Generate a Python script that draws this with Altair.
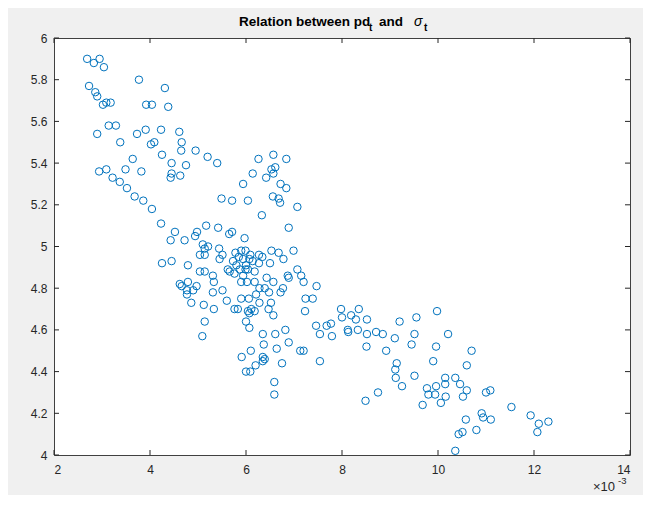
import altair as alt
import pandas as pd

# pd_t values in units of 1e-3 (axis shows x10^-3), and sigma_t values
PD_T = [
    2.69, 2.83, 2.95, 3.04, 2.73, 2.86, 2.90, 3.02, 3.09, 3.18,
    3.77, 4.31, 3.92, 4.04, 4.38, 3.14, 3.29, 2.90, 3.38, 3.73,
    3.91, 4.23, 4.61, 4.66, 4.02, 4.09, 4.65, 4.25, 4.95, 5.20,
    5.40, 3.64, 3.49, 3.82, 2.94, 3.09, 3.22, 3.37, 3.52, 3.68,
    3.86, 4.04, 4.45, 4.75, 4.43, 4.45, 4.63, 4.23, 4.52, 4.43,
    4.72, 4.94, 4.98, 5.17, 5.42, 5.65, 5.71, 5.97, 5.49, 5.71,
    6.04, 5.94, 6.14, 6.26, 6.57, 6.84, 6.53, 6.61, 6.57, 6.42,
    6.72, 6.84, 6.56, 6.68, 6.71, 7.07, 6.33, 6.89, 6.99, 6.53,
    6.68, 6.78, 6.50, 5.90, 5.99, 5.78, 6.09, 6.27, 6.34, 5.85,
    5.94, 6.07, 6.14, 6.27, 5.73, 5.80, 6.00, 5.62, 5.87, 5.99,
    6.04, 5.76, 5.94, 6.18, 6.43, 6.57, 6.28, 6.39, 5.90, 6.02,
    6.18, 6.48, 6.72, 6.77, 6.87, 6.89, 7.07, 7.15, 7.20, 7.47,
    5.90, 6.06, 6.21, 6.28, 6.52, 6.47, 6.57, 7.24, 7.39, 7.23,
    5.76, 5.83, 6.04, 6.11, 6.18, 6.07, 6.00, 6.07, 6.35, 6.61,
    6.82, 7.46, 7.68, 7.77, 7.98, 8.00, 8.19, 8.35, 8.29, 8.52,
    8.12, 8.33, 8.71, 5.10, 5.21, 5.14, 5.44, 5.51, 5.04, 5.14,
    5.45, 5.04, 5.14, 5.31, 5.33, 5.66, 5.31, 5.51, 5.60, 5.12,
    5.33, 5.14, 5.09, 6.37, 6.64, 6.89, 6.10, 5.91, 6.35, 6.35,
    6.39, 6.20, 6.75, 6.00, 6.09, 6.59, 6.59, 7.13, 7.20, 7.54,
    7.54, 7.79, 8.13, 8.52, 8.85, 8.51, 9.10, 9.20, 8.92, 9.14,
    9.11, 9.12, 8.75, 8.49, 9.55, 9.98, 9.51, 10.21, 9.45, 9.96,
    10.70, 9.90, 10.60, 9.25, 9.51, 9.77, 9.80, 9.94, 9.96, 10.15,
    10.15, 10.16, 10.06, 9.68, 10.36, 10.46, 10.60, 10.52, 11.00, 11.09,
    10.91, 10.94, 11.10, 10.58, 10.80, 10.51, 10.43, 10.36, 11.53, 11.93,
    12.10, 12.30, 12.07, 4.25, 4.45, 4.79, 4.62, 4.66, 4.79, 4.77,
    4.90, 4.77, 4.97, 4.86,
]
SIGMA_T = [
    5.90, 5.88, 5.90, 5.86, 5.77, 5.74, 5.72, 5.68, 5.69, 5.69,
    5.80, 5.76, 5.68, 5.68, 5.67, 5.58, 5.58, 5.54, 5.50, 5.54,
    5.56, 5.56, 5.55, 5.50, 5.49, 5.50, 5.46, 5.44, 5.46, 5.43,
    5.40, 5.42, 5.37, 5.36, 5.36, 5.37, 5.33, 5.31, 5.28, 5.24,
    5.22, 5.18, 5.40, 5.39, 5.33, 5.35, 5.34, 5.11, 5.07, 5.03,
    5.03, 5.05, 5.07, 5.10, 5.09, 5.06, 5.07, 5.04, 5.23, 5.22,
    5.22, 5.30, 5.35, 5.42, 5.44, 5.42, 5.37, 5.38, 5.35, 5.33,
    5.30, 5.28, 5.24, 5.23, 5.21, 5.19, 5.15, 5.09, 4.98, 4.98,
    4.97, 4.94, 4.92, 4.98, 4.98, 4.97, 4.96, 4.96, 4.95, 4.95,
    4.94, 4.94, 4.93, 4.92, 4.93, 4.91, 4.91, 4.89, 4.89, 4.89,
    4.89, 4.87, 4.86, 4.88, 4.85, 4.83, 4.80, 4.80, 4.83, 4.83,
    4.83, 4.78, 4.78, 4.80, 4.86, 4.85, 4.89, 4.86, 4.83, 4.81,
    4.75, 4.75, 4.77, 4.73, 4.73, 4.70, 4.67, 4.75, 4.75, 4.69,
    4.70, 4.70, 4.69, 4.70, 4.69, 4.68, 4.64, 4.61, 4.58, 4.58,
    4.60, 4.62, 4.62, 4.63, 4.70, 4.66, 4.67, 4.70, 4.65, 4.65,
    4.60, 4.60, 4.59, 5.01, 5.00, 4.99, 4.99, 4.96, 4.96, 4.96,
    4.94, 4.88, 4.88, 4.86, 4.83, 4.88, 4.78, 4.79, 4.74, 4.72,
    4.70, 4.64, 4.57, 4.53, 4.51, 4.54, 4.50, 4.47, 4.47, 4.45,
    4.46, 4.43, 4.44, 4.40, 4.40, 4.35, 4.29, 4.50, 4.50, 4.45,
    4.58, 4.57, 4.59, 4.58, 4.58, 4.52, 4.56, 4.64, 4.50, 4.44,
    4.41, 4.37, 4.30, 4.26, 4.66, 4.69, 4.58, 4.58, 4.53, 4.52,
    4.50, 4.45, 4.43, 4.33, 4.38, 4.32, 4.29, 4.29, 4.33, 4.37,
    4.34, 4.28, 4.25, 4.24, 4.37, 4.34, 4.31, 4.28, 4.30, 4.31,
    4.20, 4.18, 4.17, 4.17, 4.12, 4.11, 4.10, 4.02, 4.23, 4.19,
    4.15, 4.16, 4.11, 4.92, 4.93, 4.91, 4.82, 4.81, 4.83, 4.79,
    4.79, 4.77, 4.81, 4.73,
]

X_TICKS = [2, 4, 6, 8, 10, 12, 14]
Y_TICKS = [4.0, 4.2, 4.4, 4.6, 4.8, 5.0, 5.2, 5.4, 5.6, 5.8, 6.0]

TITLE_MAIN = ["Relation between pd"]
TITLE_SUB = ["t"]
TITLE_AND = ["and"]
TITLE_SIGMA = ["σ"]
EXP_BASE = ["×10"]
EXP_POWER = ["-3"]

FONT = "Liberation Sans"
AXIS_COLOR = "#262626"
W, H = 576, 417

df = pd.DataFrame({"pd": PD_T, "sigma": SIGMA_T})
xs = alt.Scale(domain=[2, 14], nice=False, zero=False)
ys = alt.Scale(domain=[4, 6], nice=False, zero=False)

x_axis = alt.Axis(
    values=X_TICKS, format="d", ticks=False, domain=False, grid=False,
    labelFont=FONT, labelFontSize=12, labelColor=AXIS_COLOR,
    labelPadding=9, title=None)
y_axis = alt.Axis(
    values=Y_TICKS, format="~g", ticks=False, domain=False, grid=False,
    labelFont=FONT, labelFontSize=12, labelColor=AXIS_COLOR,
    labelPadding=7, title=None)

points = alt.Chart(df).mark_point(
    shape="circle", filled=False, size=56, strokeWidth=1,
    color="#0072BD", opacity=1
).encode(
    x=alt.X("pd:Q", scale=xs, axis=x_axis),
    y=alt.Y("sigma:Q", scale=ys, axis=y_axis),
)

xt = pd.DataFrame({"v": X_TICKS})
yt = pd.DataFrame({"v": Y_TICKS})
TL = 5


def xticks(y0, y1):
    return alt.Chart(xt).mark_rule(color=AXIS_COLOR, strokeWidth=1).encode(
        x=alt.X("v:Q", scale=xs, axis=x_axis), y=alt.value(y0), y2=alt.value(y1))


def yticks(x0, x1):
    return alt.Chart(yt).mark_rule(color=AXIS_COLOR, strokeWidth=1).encode(
        y=alt.Y("v:Q", scale=ys, axis=y_axis), x=alt.value(x0), x2=alt.value(x1))


def txt(strings, x, y, size, weight="bold", style="normal", color="#000000"):
    return alt.Chart(pd.DataFrame({"s": strings})).mark_text(
        align="left", baseline="alphabetic", font=FONT, fontSize=size,
        fontWeight=weight, fontStyle=style, color=color
    ).encode(x=alt.value(x), y=alt.value(y), text="s:N")


layers = [
    points,
    xticks(H, H - TL), xticks(0, TL),
    yticks(0, TL), yticks(W, W - TL),
    txt(TITLE_MAIN, 185, -12, 13.5),
    txt(TITLE_SUB, 315, -7, 10),
    txt(TITLE_AND, 325, -12, 13.5),
    txt(TITLE_SIGMA, 360, -12, 14, weight="normal", style="italic"),
    txt(TITLE_SUB, 370, -7, 10),
    txt(EXP_BASE, 539, 453, 13, weight="normal", color=AXIS_COLOR),
    txt(EXP_POWER, 564, 446, 9.5, weight="normal", color=AXIS_COLOR),
]

chart = alt.layer(*layers).properties(
    width=W, height=H,
    padding={"left": 46, "top": 30, "right": 13, "bottom": 40},
    autosize=alt.AutoSizeParams(type="none"),
).configure(background="#f0f0f0").configure_view(
    fill="white", stroke="#404040", strokeWidth=1
)

chart.save("out.html", embed_options={"renderer": "svg", "actions": False})
